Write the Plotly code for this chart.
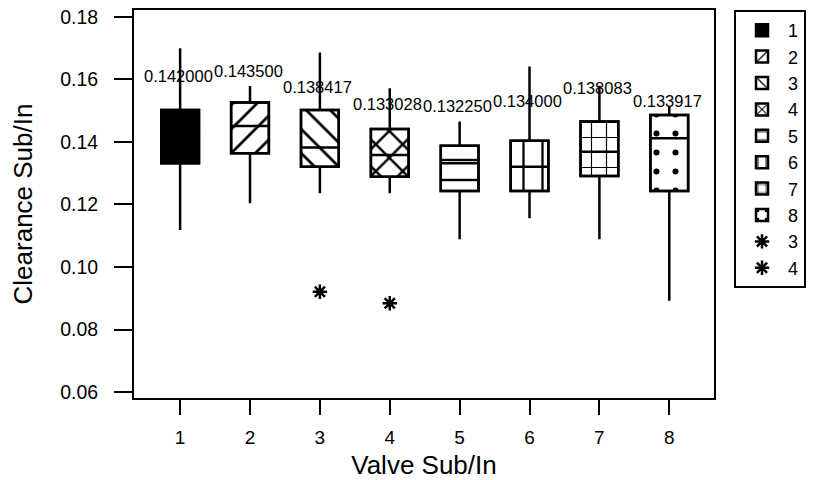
import plotly.graph_objects as go

# ---- data ----
groups = [1, 2, 3, 4, 5, 6, 7, 8]
q1 = [0.1332, 0.1364, 0.1321, 0.1289, 0.1243, 0.1243, 0.1291, 0.1243]
median = [0.1433, 0.1451, 0.1382, 0.1358, 0.1332, 0.1321, 0.1369, 0.1412]
q3 = [0.1502, 0.1526, 0.1502, 0.1441, 0.1388, 0.1404, 0.1465, 0.1486]
lower_whisker = [0.1118, 0.1204, 0.1236, 0.1236, 0.1089, 0.1156, 0.1089, 0.0892]
upper_whisker = [0.1700, 0.1579, 0.1686, 0.1572, 0.1465, 0.1641, 0.1580, 0.1513]
mean_labels = [0.142000, 0.143500, 0.138417, 0.133028, 0.132250, 0.134000, 0.138083, 0.133917]
outlier_groups = [3, 4]
outlier_values = [0.0921, 0.0884]
y_ticks = [0.06, 0.08, 0.10, 0.12, 0.14, 0.16, 0.18]

# ---- styles ----
patterns = ["", "/", "\\", "x", "-", "|", "+", "."]
pattern_sizes = [8, 17, 17, 19, 20, 19, 15, 19]
pattern_solidity = [0.2, 0.16, 0.16, 0.24, 0.12, 0.12, 0.15, 0.08]
FONT = "Liberation Sans, Arial, sans-serif"
BOX_W = 0.54

fig = go.Figure()

for i, g in enumerate(groups):
    if patterns[i]:
        marker = dict(color="white", line=dict(color="black", width=2.5),
                      pattern=dict(shape=patterns[i], fgcolor="black", bgcolor="white",
                                   fgopacity=1, fillmode="replace",
                                   size=pattern_sizes[i], solidity=pattern_solidity[i]))
    else:
        marker = dict(color="black", line=dict(color="black", width=2.5))
    fig.add_trace(go.Bar(x=[g], y=[q3[i] - q1[i]], base=[q1[i]], width=BOX_W,
                         name=str(g), marker=marker, opacity=1, hoverinfo="skip"))

fig.add_trace(go.Box(x=groups, q1=q1, median=median, q3=q3,
                     lowerfence=lower_whisker, upperfence=upper_whisker,
                     width=BOX_W, fillcolor="rgba(0,0,0,0)",
                     line=dict(color="black", width=2.5), whiskerwidth=0,
                     boxpoints=False, showlegend=False, hoverinfo="skip"))

for g, v in zip(outlier_groups, outlier_values):
    fig.add_trace(go.Scatter(x=[g], y=[v], mode="markers", name=str(g),
                             marker=dict(symbol="asterisk-open", size=12, color="black",
                                         line=dict(color="black", width=2.5))))

for g, m in zip(groups, mean_labels):
    fig.add_annotation(x=g, y=m, text=f"{m:.6f}", showarrow=False, yshift=60, xshift=-2,
                       font=dict(family=FONT, size=16.5, color="black"))

fig.update_layout(
    width=828, height=480,
    margin=dict(l=134, r=114, t=10, b=82, autoexpand=False),
    paper_bgcolor="white", plot_bgcolor="white",
    barmode="overlay",
    font=dict(family=FONT, color="black"),
    legend=dict(x=1.0345, y=1, xanchor="left", yanchor="top",
                bordercolor="black", borderwidth=2, bgcolor="white",
                font=dict(family=FONT, size=18), itemwidth=42),
    xaxis=dict(range=[0.34, 8.64], tickvals=groups, ticks="outside", ticklen=15,
               tickwidth=2, tickcolor="black", showline=True, linewidth=2, linecolor="black",
               mirror=True, showgrid=False, zeroline=False, ticklabelstandoff=6,
               tickfont=dict(size=19), title=dict(text="Valve Sub/In", font=dict(size=26), standoff=10)),
    yaxis=dict(range=[0.0581, 0.1822], tickvals=y_ticks, tickformat=".2f", ticks="outside",
               ticklen=18, tickwidth=2, tickcolor="black", showline=True, linewidth=2,
               linecolor="black", mirror=True, showgrid=False, zeroline=False,
               ticklabelstandoff=12, tickfont=dict(size=19.5),
               title=dict(text="Clearance Sub/In", font=dict(size=26), standoff=20)),
)

fig.write_html("out.html")
